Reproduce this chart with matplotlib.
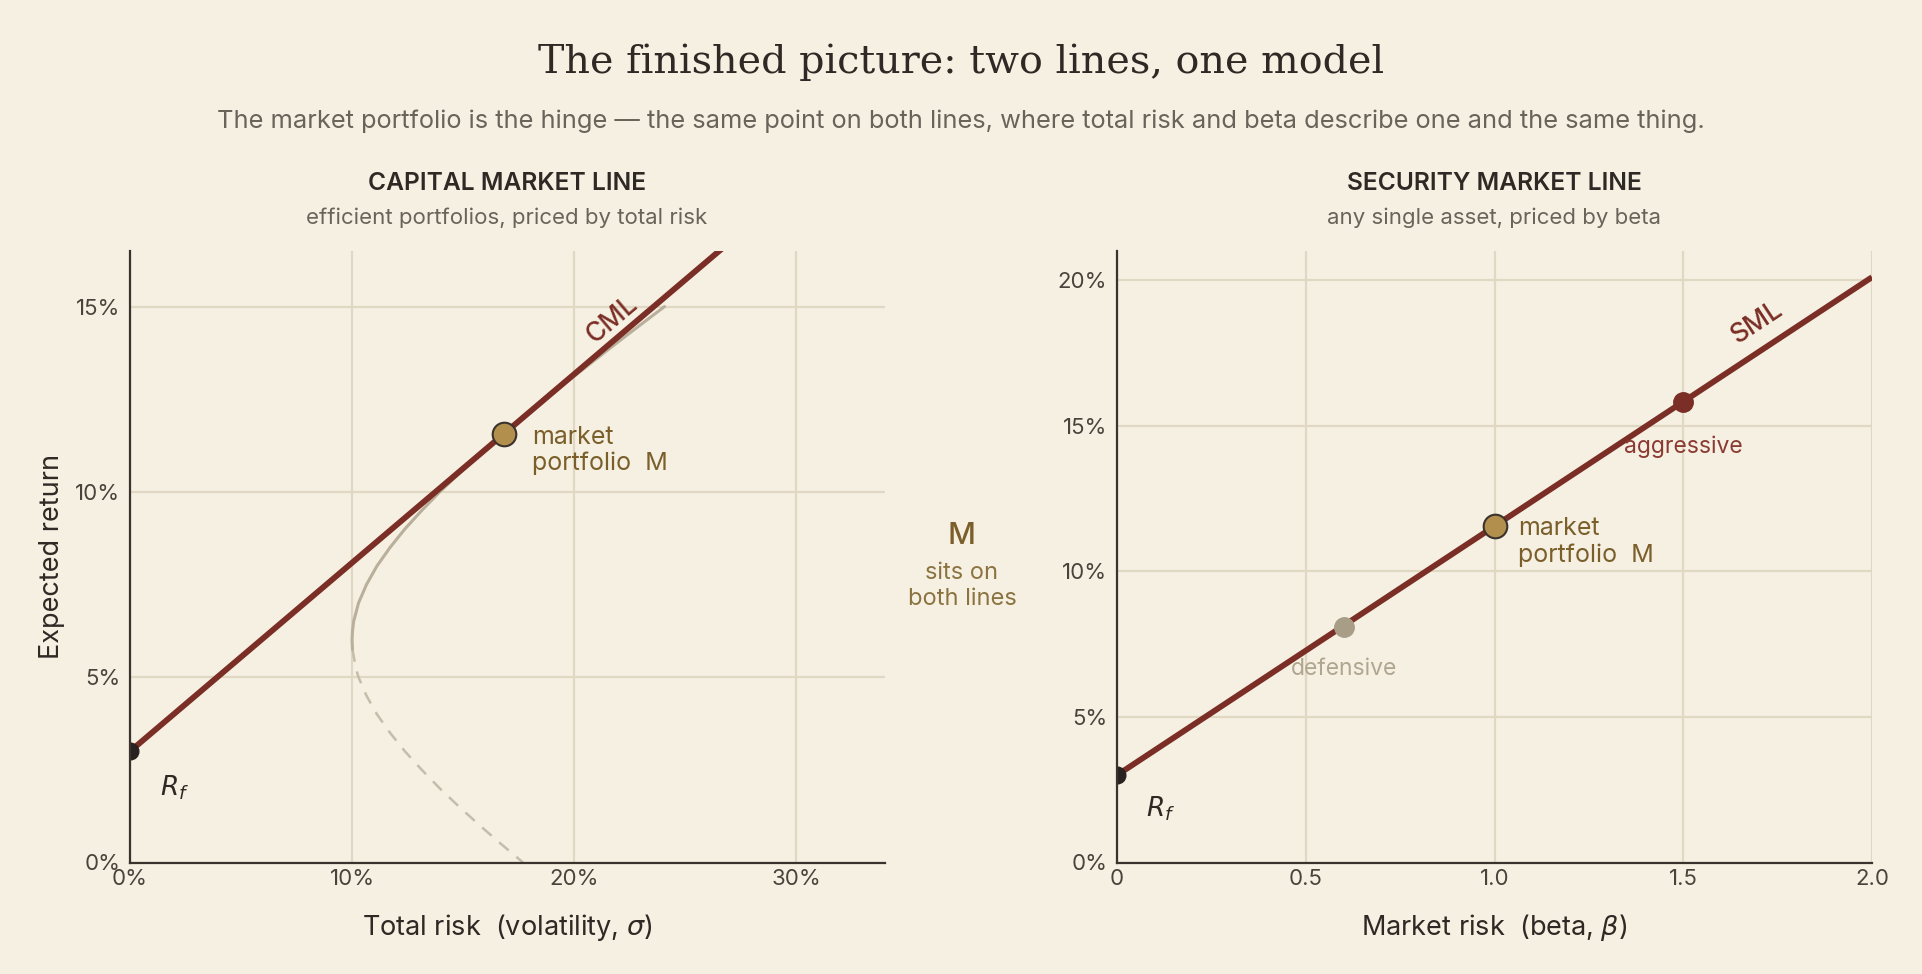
import matplotlib
matplotlib.use("Agg")
import matplotlib.pyplot as plt
import numpy as np

# ---------------- data ----------------
risk_free = 0.030
market_sigma = 0.1685
market_return = 0.1157

# capital market line (endpoints)
cml_sigma = [0.0, 0.34]
cml_return = [0.030, 0.203]

# efficient frontier (sigma, return)
frontier_return_upper = [0.0575, 0.060, 0.0625, 0.065, 0.070, 0.075, 0.080, 0.085, 0.090,
                         0.095, 0.100, 0.105, 0.110, 0.115, 0.120, 0.125, 0.130,
                         0.135, 0.140, 0.145, 0.150]
frontier_sigma_upper = [0.1002, 0.1000, 0.1002, 0.1007, 0.1029, 0.1065, 0.1112, 0.1171, 0.1238,
                        0.1314, 0.1395, 0.1483, 0.1575, 0.1671, 0.1770, 0.1871, 0.1975,
                        0.2081, 0.2188, 0.2297, 0.2407]
frontier_return_lower = [0.0575, 0.0525, 0.050, 0.045, 0.040, 0.035, 0.030, 0.025, 0.020,
                         0.015, 0.010, 0.005, 0.000]
frontier_sigma_lower = [0.1002, 0.1017, 0.1029, 0.1065, 0.1112, 0.1171, 0.1238, 0.1314, 0.1395,
                        0.1483, 0.1575, 0.1671, 0.1770]

# security market line (endpoints)
sml_beta = [0.0, 2.0]
sml_return = [0.030, 0.201]
market_beta = 1.0
defensive_beta, defensive_return = 0.6, 0.081
aggressive_beta, aggressive_return = 1.5, 0.158

cml_xticks = [0.0, 0.1, 0.2, 0.3]
cml_xticklabels = ["0%", "10%", "20%", "30%"]
cml_yticks = [0.0, 0.05, 0.10, 0.15]
cml_yticklabels = ["0%", "5%", "10%", "15%"]
sml_xticks = [0.0, 0.5, 1.0, 1.5, 2.0]
sml_xticklabels = ["0", "0.5", "1.0", "1.5", "2.0"]
sml_yticks = [0.0, 0.05, 0.10, 0.15, 0.20]
sml_yticklabels = ["0%", "5%", "10%", "15%", "20%"]

# ---------------- style ----------------
BG = "#f6f0e3"
GRID = "#e0d8c2"
DARK = "#2f2925"
SPINE = "#3a322c"
GREY = "#6b625a"
LINE = "#7a2e25"
GOLD = "#b38f4d"
GOLDTXT = "#7a5f2a"
FRONT = "#b9af9b"
FRONT_D = "#c5bcaa"
DEF = "#a89e88"
DEFTXT = "#b0a690"
AGGTXT = "#8a3a30"
SANS = ["Inter", "DejaVu Sans"]
SERIF = ["DejaVu Serif"]

plt.rcParams["font.family"] = SANS
plt.rcParams["mathtext.fontset"] = "dejavusans"

W, H = 1922, 974
fig = plt.figure(figsize=(W / 100, H / 100), dpi=100, facecolor=BG)


def px_axes(x0, y0, x1, y1):
    return fig.add_axes([x0 / W, 1 - y1 / H, (x1 - x0) / W, (y1 - y0) / H])


axL = px_axes(130, 251, 885, 862.5)
axR = px_axes(1117, 251, 1872, 862.5)

for ax in (axL, axR):
    ax.set_facecolor(BG)
    for s in ("top", "right"):
        ax.spines[s].set_visible(False)
    for s in ("left", "bottom"):
        ax.spines[s].set_color(SPINE)
        ax.spines[s].set_linewidth(1.6)
        ax.spines[s].set_zorder(6)
    ax.tick_params(length=0, labelsize=16, labelcolor="#4a423b")
    ax.tick_params(axis="y", pad=7)
    ax.tick_params(axis="x", pad=5)
    ax.grid(True, color=GRID, linewidth=1.6, zorder=0)
    ax.set_axisbelow(True)

# ---- left: CML ----
axL.set_xlim(0, 0.34)
axL.set_ylim(0, 0.165)
axL.set_xticks(cml_xticks, cml_xticklabels)
axL.set_yticks(cml_yticks, cml_yticklabels)

axL.plot(frontier_sigma_lower, frontier_return_lower, color=FRONT_D, lw=1.8,
         dashes=(5, 4), zorder=2, solid_capstyle="round")
axL.plot(frontier_sigma_upper, frontier_return_upper, color=FRONT, lw=2.2, zorder=2,
         solid_capstyle="round")
axL.plot(cml_sigma, cml_return, color=LINE, lw=4.2, zorder=3, solid_capstyle="butt")
axL.plot([0], [risk_free], "o", ms=12, color="#2a2220", zorder=5)
axL.plot([market_sigma], [market_return], "o", ms=17, mfc=GOLD, mec="#3a322c",
         mew=1.5, zorder=5)

axL.text(market_sigma + 0.0125, market_return + 0.0022, "market\nportfolio  M",
         color=GOLDTXT, fontsize=18, va="top", ha="left", linespacing=1.15)
axL.text(0.0135, 0.0201, r"$R_f$", color=DARK, fontsize=19, ha="left", va="center")

# CML label rotated along the line
p1 = axL.transData.transform((cml_sigma[0], cml_return[0]))
p2 = axL.transData.transform((cml_sigma[1], cml_return[1]))
angL = np.degrees(np.arctan2(p2[1] - p1[1], p2[0] - p1[0]))
axL.text(0.217, 0.1465, "CML", color=LINE, fontsize=19, rotation=angL,
         rotation_mode="anchor", ha="center", va="center", fontweight="medium")

axL.set_xlabel("Total risk  (volatility, $\\sigma$)", fontsize=19.5, color=DARK, va="center")
axL.xaxis.set_label_coords(0.5, -0.107)
axL.set_ylabel("Expected return", fontsize=19.5, color=DARK, va="center")
axL.yaxis.set_label_coords(-0.103, 0.5)

# ---- right: SML ----
axR.set_xlim(0, 2.0)
axR.set_ylim(0, 0.21)
axR.set_xticks(sml_xticks, sml_xticklabels)
axR.set_yticks(sml_yticks, sml_yticklabels)

axR.plot(sml_beta, sml_return, color=LINE, lw=4.2, zorder=3, solid_capstyle="butt")
axR.plot([0], [risk_free], "o", ms=12, color="#2a2220", zorder=5)
axR.plot([defensive_beta], [defensive_return], "o", ms=14, color=DEF, zorder=5)
axR.plot([aggressive_beta], [aggressive_return], "o", ms=14, color=LINE, zorder=5)
axR.plot([market_beta], [market_return], "o", ms=17, mfc=GOLD, mec="#3a322c",
         mew=1.5, zorder=5)

axR.text(market_beta + 0.062, market_return + 0.0028, "market\nportfolio  M",
         color=GOLDTXT, fontsize=18, va="top", ha="left", linespacing=1.15)
axR.text(aggressive_beta, 0.1427, "aggressive", color=AGGTXT, fontsize=16.5,
         ha="center", va="center")
axR.text(defensive_beta, 0.0663, "defensive", color=DEFTXT, fontsize=16.5,
         ha="center", va="center")
axR.text(0.077, 0.0184, r"$R_f$", color=DARK, fontsize=19, ha="left", va="center")

q1 = axR.transData.transform((sml_beta[0], sml_return[0]))
q2 = axR.transData.transform((sml_beta[1], sml_return[1]))
angR = np.degrees(np.arctan2(q2[1] - q1[1], q2[0] - q1[0]))
axR.text(1.696, 0.1855, "SML", color=LINE, fontsize=19, rotation=angR,
         rotation_mode="anchor", ha="center", va="center", fontweight="medium")

axR.set_xlabel("Market risk  (beta, $\\beta$)", fontsize=19.5, color=DARK, va="center")
axR.xaxis.set_label_coords(0.5, -0.107)

# ---- figure texts ----
def ftext(x, y, s, **kw):
    fig.text(x / W, 1 - y / H, s, ha="center", va="center", **kw)


ftext(961, 62, "The finished picture: two lines, one model", fontsize=28.5,
      color=DARK, family=SERIF)
ftext(961, 121, "The market portfolio is the hinge \u2014 the same point on both lines, "
      "where total risk and beta describe one and the same thing.",
      fontsize=18.3, color=GREY)
ftext(507, 184, "CAPITAL MARKET LINE", fontsize=17.7, color=DARK, fontweight="semibold")
ftext(507, 218, "efficient portfolios, priced by total risk", fontsize=16, color=GREY)
ftext(1494, 184, "SECURITY MARKET LINE", fontsize=17.7, color=DARK, fontweight="semibold")
ftext(1494, 218, "any single asset, priced by beta", fontsize=16, color=GREY)

ftext(962, 536, "M", fontsize=22, color=GOLDTXT, fontweight="medium")
ftext(962, 586, "sits on\nboth lines", fontsize=17, color="#8b7340", linespacing=1.2)

fig.savefig("out.png", dpi=100, facecolor=BG)
